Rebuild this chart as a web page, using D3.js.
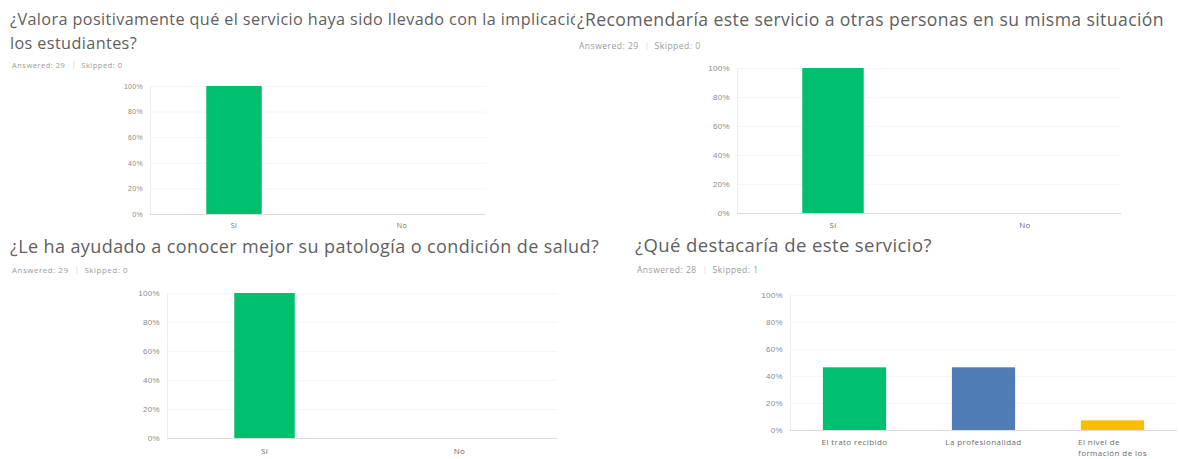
<!DOCTYPE html>
<html>
<head>
<meta charset="utf-8">
<script src="https://cdn.jsdelivr.net/npm/d3@7"></script>
<style>
  body { margin: 0; background: #fff; }
  svg { display: block; font-family: "Open Sans", sans-serif; }
</style>
</head>
<body>
<div id="chart"></div>
<script>
// data (titles as far as they are visible)
var q1Title = ["¿Valora positivamente qué el servicio haya sido llevado con la implicación", "los estudiantes?"];
var q1Cats = ["Sí", "No"];
var q1Vals = [100, 0];
var q1Answered = 29, q1Skipped = 0;

var q2Title = ["¿Recomendaría este servicio a otras personas en su misma situación"];
var q2Cats = ["Sí", "No"];
var q2Vals = [100, 0];
var q2Answered = 29, q2Skipped = 0;

var q3Title = ["¿Le ha ayudado a conocer mejor su patología o condición de salud?"];
var q3Cats = ["Sí", "No"];
var q3Vals = [100, 0];
var q3Answered = 29, q3Skipped = 0;

var q4Title = ["¿Qué destacaría de este servicio?"];
var q4Cats = ["El trato recibido", "La profesionalidad", "El nivel de formación de los estudiantes"];
var q4Vals = [46.43, 46.43, 7.14];
var q4Answered = 28, q4Skipped = 1;

var yTicks = [0, 20, 40, 60, 80, 100];
var barColors = ["#00bf6f", "#507cb6", "#f9be00"];

var svg = d3.select("#chart")
    .append("svg")
    .attr("width", 1179)
    .attr("height", 459);

var defs = svg.append("defs");

function drawPanel(p) {
    defs.append("clipPath")
        .attr("id", p.id)
        .append("rect")
        .attr("x", p.clip[0]).attr("y", p.clip[1])
        .attr("width", p.clip[2]).attr("height", p.clip[3]);

    var g = svg.append("g").attr("clip-path", "url(#" + p.id + ")");

    p.title.forEach(function (t, i) {
        g.append("text")
            .attr("x", p.titleX)
            .attr("y", p.titleY + i * 24)
            .attr("fill", "#606060")
            .style("font-size", p.titleSize + "px")
            .style("letter-spacing", "0.4px")
            .text(t);
    });

    var info = g.append("text")
        .attr("x", p.titleX + 2)
        .attr("y", p.infoY)
        .attr("fill", "#9a9a9a")
        .style("font-size", p.infoSize + "px")
        .style("letter-spacing", "0.5px");
    var a = info.append("tspan").text("Answered: " + p.answered);
    info.append("tspan").attr("dx", 16).text("Skipped: " + p.skipped);
    var aw = a.node().getComputedTextLength();
    g.append("line")
        .attr("x1", p.titleX + 2 + aw + 8.5).attr("x2", p.titleX + 2 + aw + 8.5)
        .attr("y1", p.infoY - 7).attr("y2", p.infoY + 1)
        .attr("stroke", "#e4e4e4");

    var x = d3.scaleBand()
        .domain(p.cats)
        .range(p.xRange)
        .paddingInner(p.pad)
        .paddingOuter(p.pad / 2);

    var y = d3.scaleLinear()
        .domain([0, 100])
        .range(p.yRange);

    // faint grid
    g.append("g")
        .selectAll("line")
        .data(yTicks.slice(1))
        .enter().append("line")
        .attr("x1", p.xRange[0]).attr("x2", p.xRange[1])
        .attr("y1", function (d) { return y(d) + 0.5; })
        .attr("y2", function (d) { return y(d) + 0.5; })
        .attr("stroke", "#f6f6f6");

    var yAxis = g.append("g")
        .attr("transform", "translate(" + p.xRange[0] + ",0)")
        .call(d3.axisLeft(y).tickValues(yTicks).tickSize(0).tickPadding(p.tickPad)
            .tickFormat(function (d) { return d + "%"; }));
    yAxis.select(".domain").attr("stroke", "#ececec");
    yAxis.selectAll("text")
        .attr("fill", "#8a8a8a")
        .style("font-size", p.tickSize + "px")
        .style("letter-spacing", "0.3px");

    g.append("line")
        .attr("x1", p.xRange[0]).attr("x2", p.xRange[1])
        .attr("y1", y(0) + 0.5).attr("y2", y(0) + 0.5)
        .attr("stroke", "#dcdcdc");

    g.selectAll(".bar")
        .data(p.vals)
        .enter().append("rect")
        .attr("x", function (d, i) { return x(p.cats[i]); })
        .attr("y", function (d) { return y(d); })
        .attr("width", x.bandwidth())
        .attr("height", function (d) { return y(0) - y(d); })
        .attr("fill", function (d, i) { return barColors[i]; });

    // category labels, wrapped and left aligned inside a centred block
    p.cats.forEach(function (c, i) {
        var cx = x(c) + x.bandwidth() / 2;
        var words = c.split(" "), lines = [], cur = "";
        var probe = g.append("text")
            .style("font-size", p.catSize + "px")
            .style("letter-spacing", "0.4px");
        words.forEach(function (w) {
            var test = cur ? cur + " " + w : w;
            probe.text(test);
            if (probe.node().getComputedTextLength() > p.wrap && cur) {
                lines.push(cur);
                cur = w;
            } else {
                cur = test;
            }
        });
        lines.push(cur);
        var maxW = 0;
        lines.forEach(function (l) {
            probe.text(l);
            maxW = Math.max(maxW, probe.node().getComputedTextLength());
        });
        probe.remove();
        var t = g.append("text")
            .attr("fill", "#6a6a6a")
            .style("font-size", p.catSize + "px")
            .style("letter-spacing", "0.4px");
        lines.forEach(function (l, k) {
            t.append("tspan")
                .attr("x", cx - maxW / 2)
                .attr("y", y(0) + p.catDy + k * 11)
                .text(l);
        });
    });
}

drawPanel({
    id: "c1", clip: [0, 0, 575, 232],
    title: q1Title, cats: q1Cats, vals: q1Vals, answered: q1Answered, skipped: q1Skipped,
    titleX: 10, titleY: 25, titleSize: 16.2, infoY: 68, infoSize: 7.5,
    xRange: [150, 486], yRange: [214, 86], pad: 0.67,
    tickPad: 7, tickSize: 7, catSize: 7, catDy: 14, wrap: 90
});

drawPanel({
    id: "c2", clip: [575, 0, 604, 232],
    title: q2Title, cats: q2Cats, vals: q2Vals, answered: q2Answered, skipped: q2Skipped,
    titleX: 577, titleY: 26, titleSize: 17.6, infoY: 49, infoSize: 8.5,
    xRange: [737, 1121], yRange: [213, 68], pad: 0.68,
    tickPad: 7, tickSize: 8, catSize: 8, catDy: 15, wrap: 90
});

drawPanel({
    id: "c3", clip: [0, 232, 603, 227],
    title: q3Title, cats: q3Cats, vals: q3Vals, answered: q3Answered, skipped: q3Skipped,
    titleX: 10, titleY: 253, titleSize: 18, infoY: 273, infoSize: 8,
    xRange: [167, 557], yRange: [438, 293], pad: 0.69,
    tickPad: 7, tickSize: 8, catSize: 8, catDy: 16, wrap: 90
});

drawPanel({
    id: "c4", clip: [603, 232, 576, 227],
    title: q4Title, cats: q4Cats, vals: q4Vals, answered: q4Answered, skipped: q4Skipped,
    titleX: 635, titleY: 252, titleSize: 18.5, infoY: 273, infoSize: 8.5,
    xRange: [790, 1177], yRange: [430, 295], pad: 0.51,
    tickPad: 7, tickSize: 8, catSize: 8, catDy: 15, wrap: 80
});
</script>
</body>
</html>
